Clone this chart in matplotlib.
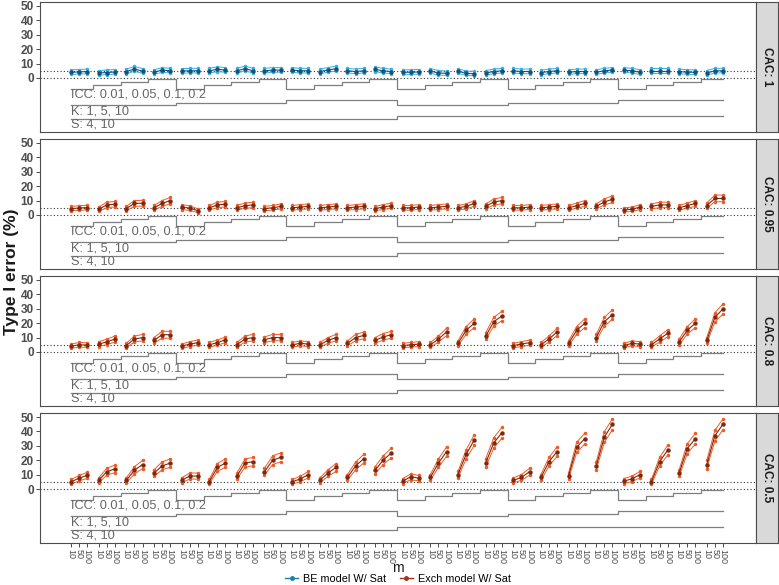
import numpy as np
import matplotlib.pyplot as plt
from matplotlib.lines import Line2D

plt.rcParams['font.family'] = ['Liberation Sans', 'DejaVu Sans']

# design: S (outer) > K > ICC (inner) > m (x)
S_LEVELS = [4, 10]
K_LEVELS = [1, 5, 10]
ICC_LEVELS = [0.01, 0.05, 0.1, 0.2]
M_LEVELS = [10, 50, 100]
CAC = ['1', '0.95', '0.8', '0.5']

# type I error (%) per panel: estimate, lower, upper (72 = 24 groups x 3 m)
cac1_mid = [4.0, 4.2, 4.5, 3.5, 3.8, 4.2, 4.5, 6.2, 4.8, 4.0, 5.5, 5.0, 4.8, 5.0, 5.0, 5.0, 6.0, 5.5,
            5.0, 6.5, 5.0, 5.0, 5.5, 5.5, 5.5, 5.0, 5.0, 4.5, 5.5, 6.5, 5.0, 4.5, 5.0, 6.0, 5.0, 4.5,
            4.0, 4.0, 4.2, 4.8, 3.5, 3.2, 4.8, 3.2, 3.0, 3.5, 4.5, 5.0, 5.0, 4.5, 4.5, 3.8, 4.5, 5.0,
            4.0, 4.5, 4.5, 4.0, 5.0, 5.5, 5.5, 5.0, 4.0, 5.0, 5.0, 5.0, 4.5, 4.0, 4.0, 3.5, 5.0, 5.0]
cac1_lo = [2.5, 2.7, 3.0, 2.0, 2.3, 2.7, 3.0, 4.6, 3.3, 2.5, 4.0, 3.5, 3.3, 3.5, 3.5, 3.5, 4.4, 4.0,
           3.5, 4.9, 3.5, 3.5, 4.0, 4.0, 4.0, 3.5, 3.5, 3.0, 4.0, 4.9, 3.5, 3.0, 3.5, 4.4, 3.5, 3.0,
           2.5, 2.5, 2.7, 3.3, 2.0, 1.8, 3.3, 1.8, 1.6, 2.0, 3.0, 3.5, 3.5, 3.0, 3.0, 2.3, 3.0, 3.5,
           2.5, 3.0, 3.0, 2.5, 3.5, 4.0, 4.0, 3.5, 2.5, 3.5, 3.5, 3.5, 3.0, 2.5, 2.5, 2.0, 3.5, 3.5]
cac1_hi = [5.7, 5.9, 6.2, 5.2, 5.5, 5.9, 6.2, 8.0, 6.5, 5.7, 7.2, 6.7, 6.5, 6.7, 6.7, 6.7, 7.8, 7.2,
           6.7, 8.3, 6.7, 6.7, 7.2, 7.2, 7.2, 6.7, 6.7, 6.2, 7.2, 8.3, 6.7, 6.2, 6.7, 7.8, 6.7, 6.2,
           5.7, 5.7, 5.9, 6.5, 5.2, 4.8, 6.5, 4.8, 4.6, 5.2, 6.2, 6.7, 6.7, 6.2, 6.2, 5.5, 6.2, 6.7,
           5.7, 6.2, 6.2, 5.7, 6.7, 7.2, 7.2, 6.7, 5.7, 6.7, 6.7, 6.7, 6.2, 5.7, 5.7, 5.2, 6.7, 6.7]

cac095_mid = [4.5, 4.8, 5.2, 4.0, 7.0, 7.5, 4.5, 8.0, 8.2, 5.0, 8.0, 10.0, 5.5, 4.8, 3.0, 5.0, 7.0, 7.5,
              5.0, 6.5, 7.0, 4.5, 5.0, 6.0, 5.0, 5.5, 6.0, 5.0, 5.5, 6.0, 5.0, 5.5, 6.0, 4.5, 5.5, 6.5,
              5.0, 5.0, 5.5, 5.0, 5.5, 6.0, 5.0, 6.0, 8.0, 6.0, 9.0, 10.0, 5.0, 5.0, 5.5, 5.0, 5.5, 6.0,
              5.0, 6.5, 8.0, 6.0, 9.0, 11.0, 3.5, 4.0, 5.5, 6.0, 7.0, 7.0, 5.0, 6.5, 8.0, 6.5, 11.5, 11.5]
cac095_lo = [3.0, 3.2, 3.6, 2.5, 5.1, 5.6, 3.0, 6.0, 6.2, 3.4, 6.0, 7.8, 3.8, 3.2, 1.7, 3.4, 5.1, 5.6,
             3.4, 4.7, 5.1, 3.0, 3.4, 4.3, 3.4, 3.8, 4.3, 3.4, 3.8, 4.3, 3.4, 3.8, 4.3, 3.0, 3.8, 4.7,
             3.4, 3.4, 3.8, 3.4, 3.8, 4.3, 3.4, 4.3, 6.0, 4.3, 6.9, 7.8, 3.4, 3.4, 3.8, 3.4, 3.8, 4.3,
             3.4, 4.7, 6.0, 4.3, 6.9, 8.7, 2.1, 2.5, 3.8, 4.3, 5.1, 5.1, 3.4, 4.7, 6.0, 4.7, 9.2, 9.2]
cac095_hi = [6.0, 6.4, 6.8, 5.5, 8.9, 9.4, 6.0, 10.0, 10.2, 6.6, 10.0, 12.2, 7.2, 6.4, 4.3, 6.6, 8.9, 9.4,
             6.6, 8.3, 8.9, 6.0, 6.6, 7.7, 6.6, 7.2, 7.7, 6.6, 7.2, 7.7, 6.6, 7.2, 7.7, 6.0, 7.2, 8.3,
             6.6, 6.6, 7.2, 6.6, 7.2, 7.7, 6.6, 7.7, 10.0, 7.7, 11.1, 12.2, 6.6, 6.6, 7.2, 6.6, 7.2, 7.7,
             6.6, 8.3, 10.0, 7.7, 11.1, 13.3, 4.9, 5.5, 7.2, 7.7, 8.9, 8.9, 6.6, 8.3, 10.0, 8.3, 13.8, 13.8]

cac08_mid = [4.0, 5.0, 4.8, 5.5, 7.0, 9.0, 4.5, 9.0, 10.0, 8.0, 12.0, 12.0, 4.0, 5.5, 6.5, 5.0, 6.5, 8.5,
             5.0, 9.0, 10.0, 8.5, 10.0, 10.0, 5.0, 6.0, 5.5, 5.0, 8.0, 10.0, 6.0, 10.0, 11.5, 8.0, 10.5, 12.0,
             4.5, 5.0, 5.5, 5.0, 9.0, 14.0, 6.0, 15.0, 20.0, 11.0, 21.0, 25.0, 4.5, 5.5, 6.5, 5.0, 9.0, 14.0,
             6.0, 15.0, 20.0, 10.0, 21.0, 26.0, 4.5, 6.0, 5.5, 5.0, 9.0, 13.0, 7.0, 15.0, 20.0, 8.0, 24.0, 30.0]
cac08_lo = [2.5, 3.4, 3.2, 3.8, 5.1, 6.9, 3.0, 6.9, 7.8, 6.0, 9.6, 9.6, 2.5, 3.8, 4.7, 3.4, 4.7, 6.5,
            3.4, 6.9, 7.8, 6.5, 7.8, 7.8, 3.4, 4.3, 3.8, 3.4, 6.0, 7.8, 4.3, 7.8, 9.2, 6.0, 8.3, 9.6,
            3.0, 3.4, 3.8, 3.4, 6.9, 11.4, 4.3, 12.3, 17.0, 8.7, 18.0, 21.7, 3.0, 3.8, 4.7, 3.4, 6.9, 11.4,
            4.3, 12.3, 17.0, 7.8, 18.0, 22.7, 3.0, 4.3, 3.8, 3.4, 6.9, 10.5, 5.1, 12.3, 17.0, 6.0, 20.8, 26.5]
cac08_hi = [5.5, 6.6, 6.4, 7.2, 8.9, 11.1, 6.0, 11.1, 12.2, 10.0, 14.4, 14.4, 5.5, 7.2, 8.3, 6.6, 8.3, 10.5,
            6.6, 11.1, 12.2, 10.5, 12.2, 12.2, 6.6, 7.7, 7.2, 6.6, 10.0, 12.2, 7.7, 12.2, 13.8, 10.0, 12.8, 14.4,
            6.0, 6.6, 7.2, 6.6, 11.1, 16.6, 7.7, 17.7, 23.0, 13.3, 24.0, 28.3, 6.0, 7.2, 8.3, 6.6, 11.1, 16.6,
            7.7, 17.7, 23.0, 12.2, 24.0, 29.3, 6.0, 7.7, 7.2, 6.6, 11.1, 15.5, 8.9, 17.7, 23.0, 10.0, 27.2, 33.5]

cac05_mid = [5.0, 7.5, 9.5, 6.0, 12.0, 14.0, 6.0, 13.0, 17.0, 11.0, 16.0, 18.0, 6.0, 9.0, 9.0, 5.0, 15.0, 18.0,
             9.0, 18.0, 19.0, 12.0, 20.0, 22.0, 5.0, 7.0, 10.0, 6.0, 11.0, 15.0, 8.0, 16.0, 21.0, 13.0, 20.0, 25.0,
             5.5, 8.5, 7.5, 8.0, 18.0, 26.0, 10.0, 24.0, 34.0, 18.0, 32.0, 39.0, 6.0, 8.0, 12.0, 8.0, 19.0, 26.0,
             9.0, 29.0, 35.0, 16.0, 36.0, 45.0, 5.5, 7.0, 10.0, 5.0, 19.0, 27.0, 11.0, 28.0, 35.0, 17.0, 37.0, 45.0]
cac05_lo = [3.4, 5.6, 7.4, 4.3, 9.6, 11.4, 4.3, 10.5, 14.2, 8.7, 13.3, 15.1, 4.3, 6.9, 6.9, 3.4, 12.3, 15.1,
            6.9, 15.1, 16.1, 9.6, 17.0, 18.9, 3.4, 5.1, 7.8, 4.3, 8.7, 12.3, 6.0, 13.3, 18.0, 10.5, 17.0, 21.7,
            3.8, 6.5, 5.6, 6.0, 15.1, 22.7, 7.8, 20.8, 30.4, 15.1, 28.4, 35.3, 4.3, 6.0, 9.6, 6.0, 16.0, 22.7,
            6.9, 25.5, 31.3, 13.3, 32.3, 41.2, 3.8, 5.1, 7.8, 3.4, 16.0, 23.6, 8.7, 24.6, 31.3, 14.2, 33.3, 41.2]
cac05_hi = [6.6, 9.4, 11.6, 7.7, 14.4, 16.6, 7.7, 15.5, 19.8, 13.3, 18.8, 20.9, 7.7, 11.1, 11.1, 6.6, 17.7, 20.9,
            11.1, 20.9, 21.9, 14.4, 23.0, 25.1, 6.6, 8.9, 12.2, 7.7, 13.3, 17.7, 10.0, 18.7, 24.0, 15.5, 23.0, 28.3,
            7.2, 10.5, 9.4, 10.0, 20.9, 29.3, 12.2, 27.2, 37.6, 20.9, 35.6, 42.8, 7.7, 10.0, 14.4, 10.0, 22.0, 29.3,
            11.1, 32.5, 38.7, 18.7, 39.7, 48.8, 7.2, 8.9, 12.2, 6.6, 22.0, 30.4, 13.3, 31.4, 38.7, 19.8, 40.7, 48.8]

PANELS = [
    ('BE', cac1_mid, cac1_lo, cac1_hi),
    ('Exch', cac095_mid, cac095_lo, cac095_hi),
    ('Exch', cac08_mid, cac08_lo, cac08_hi),
    ('Exch', cac05_mid, cac05_lo, cac05_hi),
]

STYLE = {
    'BE': dict(outer='#2BB3E8', mid='#1D4F73', label='BE model W/ Sat', key='#1F7FAF'),
    'Exch': dict(outer='#F25A22', mid='#7A2A12', label='Exch model W/ Sat', key='#A8321A'),
}

n_groups = len(S_LEVELS) * len(K_LEVELS) * len(ICC_LEVELS)
n_m = len(M_LEVELS)
GAP = 1.4
group_start = np.arange(n_groups) * (n_m - 1 + GAP)
xpos = (group_start[:, None] + np.arange(n_m)[None, :]).ravel()

g = np.arange(n_groups)
icc_idx = g % len(ICC_LEVELS)
k_idx = (g // len(ICC_LEVELS)) % len(K_LEVELS)
s_idx = g // (len(ICC_LEVELS) * len(K_LEVELS))


def step_path(level_idx, base, height):
    xs, ys = [], []
    for i in range(n_groups):
        x0 = group_start[i] - (GAP / 2 if i > 0 else 0)
        x1 = group_start[i] + n_m - 1 + (GAP / 2 if i < n_groups - 1 else 0)
        y = base + height * level_idx[i]
        xs += [x0, x1]
        ys += [y, y]
    return xs, ys


W, H = 779, 585
fig = plt.figure(figsize=(W / 100, H / 100), dpi=100)

LEFT, RIGHT, STRIP = 40, 756, 22
PH, PSTEP, TOP = 130, 137, 2
YMIN = -37.5
YMAX = YMIN + PH / 1.44
XMIN = xpos[0] - 31 / 8.13
XMAX = xpos[-1] + 33 / 8.13
BORDER = '#4D4D4D'

for p, (model, mid, lo, hi) in enumerate(PANELS):
    top = TOP + p * PSTEP
    ax = fig.add_axes([LEFT / W, 1 - (top + PH) / H, (RIGHT - LEFT) / W, PH / H])
    st = STYLE[model]

    ax.axhline(0, color='#333333', lw=0.8, ls=(0, (1, 2)))
    ax.axhline(5, color='#333333', lw=0.8, ls=(0, (1, 2)))

    mid = np.array(mid).reshape(n_groups, n_m)
    lo = np.array(lo).reshape(n_groups, n_m)
    hi = np.array(hi).reshape(n_groups, n_m)
    xs = xpos.reshape(n_groups, n_m)
    for i in range(n_groups):
        ax.plot(xs[i], lo[i], color=st['outer'], lw=0.7, marker='o', ms=1.5, zorder=3)
        ax.plot(xs[i], hi[i], color=st['outer'], lw=0.7, marker='o', ms=1.5, zorder=3)
        ax.plot(xs[i], mid[i], color=st['mid'], lw=0.8, marker='o', ms=2.2, zorder=4)

    # nested step lines
    for level_idx, base, height, txt_y, label, levels in [
        (icc_idx, -7.4, 2.2, -11.8, 'ICC', ICC_LEVELS),
        (k_idx, -18.8, 1.75, -23.0, 'K', K_LEVELS),
        (s_idx, -28.3, 1.9, -32.6, 'S', S_LEVELS),
    ]:
        sx, sy = step_path(level_idx, base, height)
        ax.plot(sx, sy, color='#7F7F7F', lw=0.9, zorder=2)
        ax.text(xpos[0], txt_y, f"{label}: " + ", ".join(str(v) for v in levels),
                ha='left', va='center', color='#666666', fontsize=9.2)

    ax.set_xlim(XMIN, XMAX)
    ax.set_ylim(YMIN, YMAX)
    ax.set_yticks([0, 10, 20, 30, 40, 50])
    ax.tick_params(axis='y', labelsize=8.5, colors='#4D4D4D', length=3, width=0.7, pad=1.5)
    for t in ax.get_yticklabels():
        t.set_fontweight('bold')
    for sp in ax.spines.values():
        sp.set_color(BORDER)
        sp.set_linewidth(0.8)

    if p == len(PANELS) - 1:
        ax.set_xticks(xpos)
        ax.set_xticklabels([str(m) for m in M_LEVELS] * n_groups, rotation=-90,
                           fontsize=6.5, color='#4D4D4D')
        ax.tick_params(axis='x', length=3, width=0.7, colors='#4D4D4D', pad=1.5)
    else:
        ax.set_xticks([])

    sax = fig.add_axes([RIGHT / W, 1 - (top + PH) / H, STRIP / W, PH / H])
    sax.set_facecolor('#D9D9D9')
    sax.set_xticks([])
    sax.set_yticks([])
    for sp in sax.spines.values():
        sp.set_color(BORDER)
        sp.set_linewidth(0.8)
    sax.text(0.5, 0.5, f"CAC: {CAC[p]}", rotation=-90, ha='center', va='center',
             fontsize=8.5, fontweight='bold', color='#1A1A1A', transform=sax.transAxes)

fig.text(12 / W, 1 - 272 / H, 'Type I error (%)', rotation=90, ha='center', va='center',
         fontsize=12.5, fontweight='bold', color='#1A1A1A')
fig.text((LEFT + RIGHT) / 2 / W, 1 - 568 / H, 'm', ha='center', va='center',
         fontsize=10, color='#1A1A1A')

handles = [Line2D([0], [0], color=STYLE[k]['key'], lw=1, marker='o', ms=2.5) for k in ('BE', 'Exch')]
fig.legend(handles, [STYLE[k]['label'] for k in ('BE', 'Exch')], loc='center',
           bbox_to_anchor=((LEFT + RIGHT) / 2 / W, 1 - 579 / H), ncol=2, frameon=False,
           fontsize=7.8, handlelength=1.2, handletextpad=0.5, columnspacing=1.2,
           borderaxespad=0, borderpad=0)

fig.savefig('out.png', dpi=100)
